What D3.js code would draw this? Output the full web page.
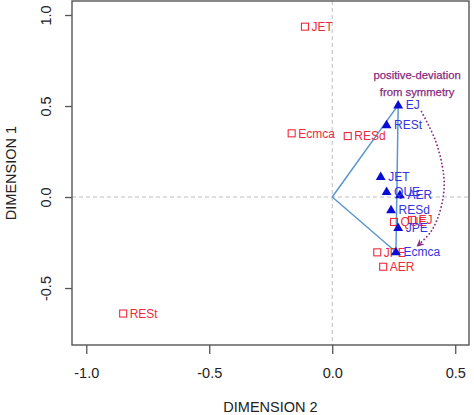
<!DOCTYPE html>
<html>
<head>
<meta charset="utf-8">
<script src="https://cdn.jsdelivr.net/npm/d3@7"></script>
<style>
  html, body { margin: 0; padding: 0; background: #fff; }
  svg { display: block; font-family: "Liberation Sans", Arial, sans-serif; }
</style>
</head>
<body>
<svg id="chart" width="474" height="415"></svg>
<script>
// ---- data ----
const redLabels = ["JET", "Ecmca", "RESd", "RESt", "JPE", "AER", "QUE", "EJ"];
const redX = [-0.111, -0.165, 0.063, -0.850, 0.183, 0.207, 0.251, 0.324];
const redY = [0.936, 0.350, 0.335, -0.640, -0.304, -0.383, -0.137, -0.126];

const blueLabels = ["EJ", "RESt", "JET", "QUE", "AER", "RESd", "JPE", "Ecmca"];
const blueX = [0.268, 0.221, 0.197, 0.221, 0.275, 0.239, 0.268, 0.259];
const blueY = [0.505, 0.396, 0.112, 0.030, 0.011, -0.071, -0.168, -0.302];

// triangle outline: origin -> EJ -> Ecmca -> origin (blue series)
const polyLabels = ["EJ", "Ecmca"];

// annotation arc (data coordinates)
const arcX = [0.363, 0.419, 0.448, 0.455, 0.449, 0.426, 0.397, 0.343];
const arcY = [0.469, 0.313, 0.166, 0.077, -0.016, -0.126, -0.198, -0.273];
const annotationLines = ["positive-deviation", "from symmetry"];
const annotationX = 0.345;
const annotationY = [0.671, 0.577];

const xTicks = [-1.0, -0.5, 0.0, 0.5];
const yTicks = [-0.5, 0.0, 0.5, 1.0];
const xTitle = "DIMENSION 2";
const yTitle = "DIMENSION 1";

// ---- layout ----
const L = 72, R = 469, T = 1, B = 345;
const svg = d3.select("#chart");
const x = d3.scaleLinear().domain([-1.058, 0.556]).range([L, R]);
const y = d3.scaleLinear().domain([-0.813, 1.077]).range([B, T]);

const RED = "#ee2a40", BLUE_PT = "#0b0bd6", BLUE_TX = "#3535e0", LINE = "#5b97cf", PURPLE = "#8a2a80";

// reference dashed lines
svg.append("line").attr("x1", x(0)).attr("x2", x(0)).attr("y1", T).attr("y2", B)
  .attr("stroke", "#bdbdbd").attr("stroke-width", 1).attr("stroke-dasharray", "4,3");
svg.append("line").attr("x1", L).attr("x2", R).attr("y1", y(0)).attr("y2", y(0))
  .attr("stroke", "#bdbdbd").attr("stroke-width", 1).attr("stroke-dasharray", "4,3");

// polygon lines
const idx = l => blueLabels.indexOf(l);
const poly = [[0, 0]].concat(polyLabels.map(l => [blueX[idx(l)], blueY[idx(l)]])).concat([[0, 0]]);
svg.append("path")
  .attr("d", d3.line().x(d => x(d[0])).y(d => y(d[1]))(poly))
  .attr("fill", "none").attr("stroke", LINE).attr("stroke-width", 1.5);

// red squares
const redData = redLabels.map((l, i) => ({ l, x: redX[i], y: redY[i] }));
svg.append("g").selectAll("rect").data(redData).join("rect")
  .attr("x", d => x(d.x) - 3.5).attr("y", d => y(d.y) - 3.5)
  .attr("width", 7).attr("height", 7)
  .attr("fill", "none").attr("stroke", RED).attr("stroke-width", 1.1);
svg.append("g").selectAll("text").data(redData).join("text")
  .attr("x", d => x(d.x) + 6.5).attr("y", d => y(d.y)).attr("dy", "0.36em")
  .attr("fill", RED).attr("font-size", 12).text(d => d.l);

// blue triangles
const blueData = blueLabels.map((l, i) => ({ l, x: blueX[i], y: blueY[i] }));
const tri = d3.symbol().type(d3.symbolTriangle).size(42);
svg.append("g").selectAll("path").data(blueData).join("path")
  .attr("transform", d => `translate(${x(d.x)},${y(d.y) + 0.5})`)
  .attr("d", tri).attr("fill", BLUE_PT);
svg.append("g").selectAll("text").data(blueData).join("text")
  .attr("x", d => x(d.x) + 7.5).attr("y", d => y(d.y)).attr("dy", "0.36em")
  .attr("fill", BLUE_TX).attr("font-size", 12).text(d => d.l);

// arc annotation
const defs = svg.append("defs");
defs.append("marker").attr("id", "arr").attr("viewBox", "-10 -6 12 12")
  .attr("refX", 0).attr("refY", 0).attr("markerWidth", 10).attr("markerHeight", 10)
  .attr("markerUnits", "userSpaceOnUse").attr("orient", "auto")
  .append("path").attr("d", "M0,0 L-9,-4.5 L-6,0 L-9,4.5 Z").attr("fill", PURPLE);
const arcPts = arcX.map((v, i) => [v, arcY[i]]);
svg.append("path")
  .attr("d", d3.line().x(d => x(d[0])).y(d => y(d[1])).curve(d3.curveCatmullRom)(arcPts))
  .attr("fill", "none").attr("stroke", PURPLE).attr("stroke-width", 1.8)
  .attr("stroke-dasharray", "0.1,3.6").attr("stroke-linecap", "round")
  .attr("marker-end", "url(#arr)");
svg.append("g").selectAll("text").data(annotationLines).join("text")
  .attr("x", x(annotationX)).attr("y", (d, i) => y(annotationY[i])).attr("dy", "0.36em")
  .attr("text-anchor", "middle").attr("fill", PURPLE).attr("font-size", 11.3)
  .attr("stroke", PURPLE).attr("stroke-width", 0.25).text(d => d);

// frame
svg.append("rect").attr("x", L).attr("y", T).attr("width", R - L).attr("height", B - T)
  .attr("fill", "none").attr("stroke", "#555").attr("stroke-width", 1.4);

// axes
const fmt = d => d.toFixed(1);
const gx = svg.append("g").attr("transform", `translate(0,${B})`)
  .call(d3.axisBottom(x).tickValues(xTicks).tickSize(9).tickFormat(fmt));
gx.select(".domain").remove();
gx.selectAll("line").attr("stroke", "#555").attr("stroke-width", 1.3);
gx.selectAll("text").attr("y", 28).attr("dy", "0.36em").attr("font-size", 14.5)
  .attr("fill", "#222").attr("font-family", "Liberation Sans, Arial, sans-serif");

const gy = svg.append("g").attr("transform", `translate(${L},0)`)
  .call(d3.axisLeft(y).tickValues(yTicks).tickSize(7).tickFormat(fmt));
gy.select(".domain").remove();
gy.selectAll("line").attr("stroke", "#555").attr("stroke-width", 1.3);
gy.selectAll("text").attr("x", null).attr("dy", null)
  .attr("transform", "translate(-26,0) rotate(-90)").attr("text-anchor", "middle")
  .attr("dy", "0.36em").attr("font-size", 14.5).attr("fill", "#222")
  .attr("font-family", "Liberation Sans, Arial, sans-serif");

// titles
svg.append("text").attr("x", (L + R) / 2).attr("y", 407).attr("dy", "0.36em")
  .attr("text-anchor", "middle").attr("font-size", 14.5).attr("fill", "#222").text(xTitle);
svg.append("text").attr("transform", `translate(11,${(T + B) / 2}) rotate(-90)`)
  .attr("dy", "0.36em").attr("text-anchor", "middle").attr("font-size", 14.5)
  .attr("fill", "#222").text(yTitle);
</script>
</body>
</html>
